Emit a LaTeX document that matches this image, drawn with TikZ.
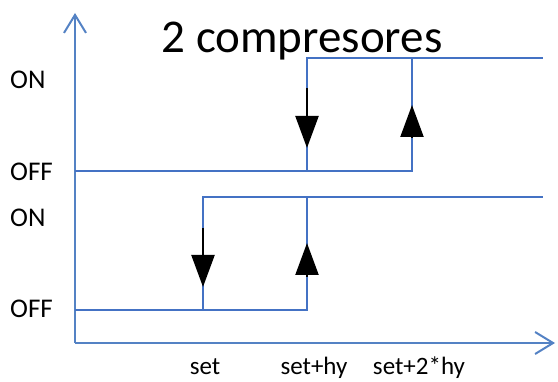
\documentclass[tikz,border=0pt]{standalone}
\usepackage{fontspec}
\setmainfont{Carlito}
\usetikzlibrary{arrows.meta}
\definecolor{axisblue}{RGB}{84,130,196}
\definecolor{lineblue}{RGB}{68,114,196}
\begin{document}
\begin{tikzpicture}[x=1pt,y=-1pt,
        axis/.style={draw=axisblue,line width=2pt,-{Straight Barb[length=18pt,width=22pt]}},
        level/.style={draw=lineblue,line width=1.6pt},
        dir/.style={line width=2.2pt,-{Triangle[length=32pt,width=23pt]}},
        lbl/.style={inner sep=0pt,anchor=west,font=\fontsize{27}{30}\selectfont},
        tick/.style={inner sep=0pt,anchor=base,font=\fontsize{25}{30}\selectfont}]
        \useasboundingbox (0,0) rectangle (558,382);

        % axes
        \coordinate (o) at (75,343);
        \coordinate (ytop) at (75,13);
        \coordinate (xend) at (555,343);
        \draw[axis] (o) -- (ytop);
        \draw[axis] (o) -- (xend);

        \node (title) at (302,53)[anchor=base,inner sep=0pt,font=\fontsize{47}{56}\selectfont]{2 compresores};

        % compressor 1
        \coordinate (a0) at (75,171);
        \coordinate (a1) at (307,171);
        \coordinate (a2) at (412,171);
        \coordinate (a3) at (307,58);
        \coordinate (a4) at (412,58);
        \coordinate (a5) at (543,58);
        \draw[level] (a0) -- (a2) -- (a4);
        \draw[level] (a1) -- (a3) -- (a5);

        % compressor 2
        \coordinate (b0) at (75,310);
        \coordinate (b1) at (203,310);
        \coordinate (b2) at (307,310);
        \coordinate (b3) at (203,197);
        \coordinate (b4) at (307,197);
        \coordinate (b5) at (543,197);
        \draw[level] (b0) -- (b2) -- (b4);
        \draw[level] (b1) -- (b3) -- (b5);

        % switching directions
        \coordinate (d1s) at (307,88);  \coordinate (d1e) at (307,148);
        \coordinate (u1s) at (412,138); \coordinate (u1e) at (412,105);
        \coordinate (d2s) at (203,228); \coordinate (d2e) at (203,287);
        \coordinate (u2s) at (307,277); \coordinate (u2e) at (307,243);
        \draw[dir] (d1s) -- (d1e);
        \draw[dir] (u1s) -- (u1e);
        \draw[dir] (d2s) -- (d2e);
        \draw[dir] (u2s) -- (u2e);

        \foreach \n/\y/\t in {on1/80/ON, off1/172/OFF, on2/218/ON, off2/309/OFF}{
            \node (\n) at (10,\y)[lbl]{\t};
        }
        \foreach \n/\x/\t in {set/205/set, hy/314/set+hy, hyy/419/set+2*hy}{
            \node (\n) at (\x,375)[tick]{\t};
        }
    \end{tikzpicture}
\end{document}
